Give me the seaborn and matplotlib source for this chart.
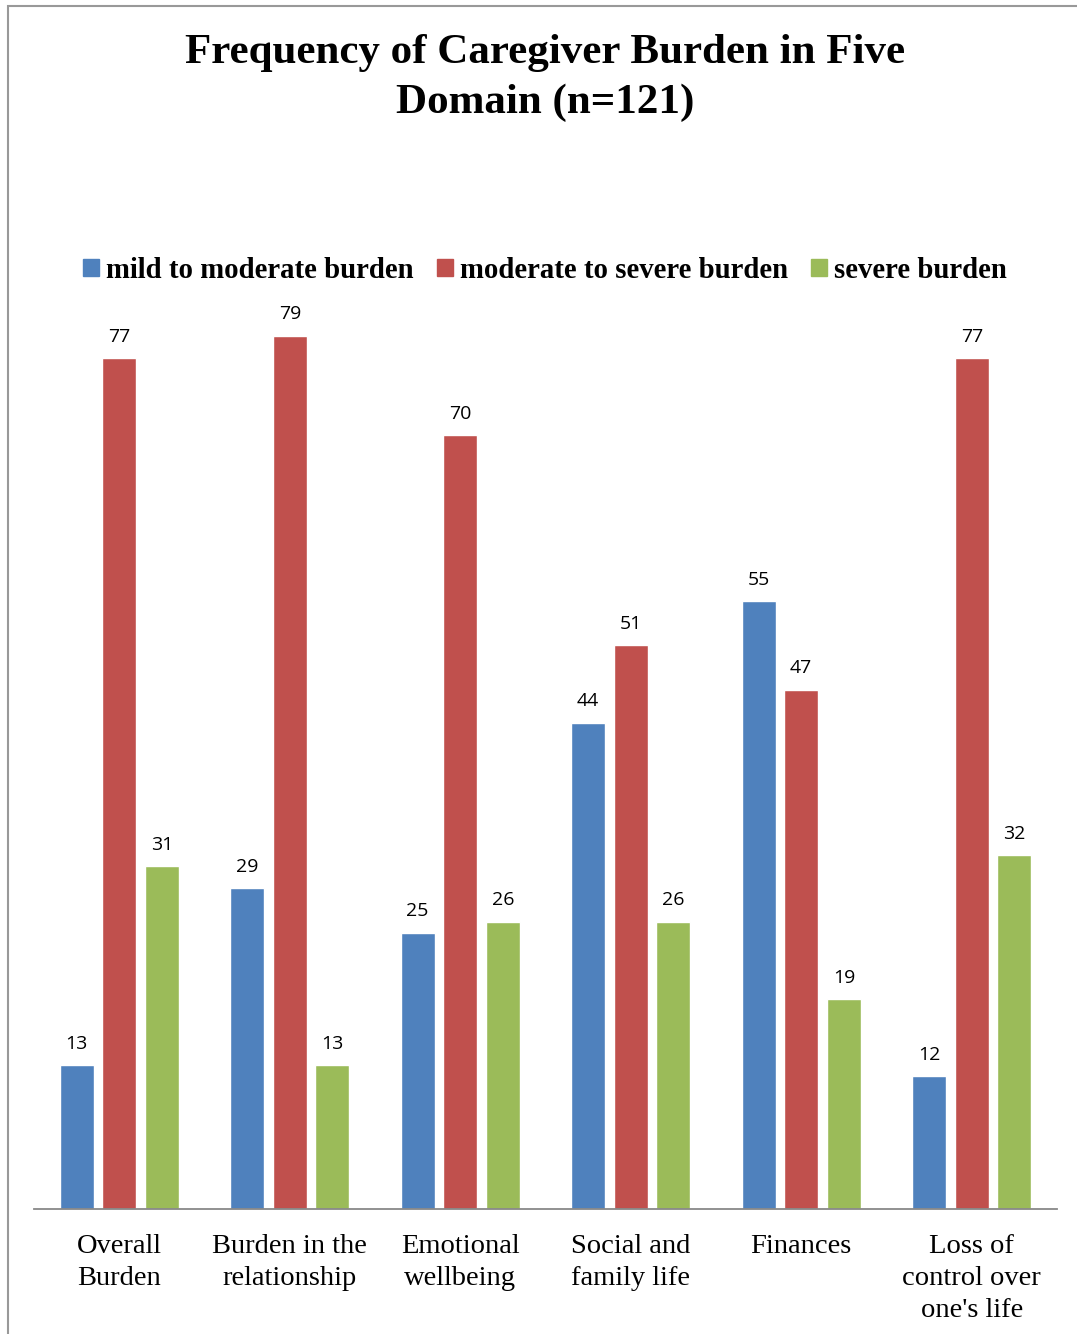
import matplotlib
matplotlib.use("Agg")
import matplotlib.pyplot as plt
import seaborn as sns
import pandas as pd
from matplotlib.patches import Rectangle

categories = ["Overall\nBurden", "Burden in the\nrelationship", "Emotional\nwellbeing",
              "Social and\nfamily life", "Finances", "Loss of\ncontrol over\none's life"]
series_names = ["mild to moderate burden", "moderate to severe burden", "severe burden"]
mild = [13, 29, 25, 44, 55, 12]
moderate_severe = [77, 79, 70, 51, 47, 77]
severe = [31, 13, 26, 26, 19, 32]
colors = ["#4F81BD", "#C0504D", "#9BBB59"]

rows = []
for name, vals in zip(series_names, [mild, moderate_severe, severe]):
    for c, v in zip(categories, vals):
        rows.append({"cat": c, "series": name, "value": v})
df = pd.DataFrame(rows)

sns.set_theme(style="white")
plt.rcParams['font.family'] = ['Liberation Serif', 'DejaVu Serif']
plt.rcParams['text.color'] = 'black'
plt.rcParams['xtick.color'] = 'black'

W, H = 1077, 1334
fig = plt.figure(figsize=(W / 100, H / 100), dpi=100)
ymax = 90
ax_left, ax_right, ax_bottom = 34, 1057, 1209
ppu = (1209 - 358) / 77
ax_top = ax_bottom - ymax * ppu
ax = fig.add_axes([ax_left / W, 1 - ax_bottom / H, (ax_right - ax_left) / W, (ax_bottom - ax_top) / H])

sns.barplot(data=df, x="cat", y="value", hue="series", palette=colors, ax=ax,
            width=0.75, gap=0.2, saturation=1, legend=False)
ax.set_ylim(0, ymax)
ax.set_xlim(-0.5, len(categories) - 0.5)
for cont in ax.containers:
    ax.bar_label(cont, padding=9, fontsize=14, family=['Open Sans', 'DejaVu Sans'], color="#000000")
ax.set_xlabel("")
ax.set_ylabel("")
ax.set_yticks([])
for s in ["top", "left", "right"]:
    ax.spines[s].set_visible(False)
ax.spines["bottom"].set_color("#888888")
ax.spines["bottom"].set_linewidth(1.3)
ax.tick_params(axis="x", length=0, pad=18, colors="black")
for lbl in ax.get_xticklabels():
    lbl.set_fontsize(20.5)
    lbl.set_linespacing(1.38)
    lbl.set_verticalalignment("top")
    lbl.set_color("black")

fig.text(545 / W, 1 - 78 / H, "Frequency of Caregiver Burden in Five\nDomain (n=121)",
         ha="center", va="center", fontsize=31, fontweight="bold", linespacing=1.36, color="black")

# legend
handles = [Rectangle((0, 0), 1, 1, color=c) for c in colors]
leg = fig.legend(handles, series_names, loc="center", bbox_to_anchor=(545 / W, 1 - 270 / H),
                 ncol=3, frameon=False, prop={"size": 20.7, "weight": "bold"},
                 handlelength=0.55, handleheight=0.55, handletextpad=0.25, columnspacing=0.8)
for t in leg.get_texts():
    t.set_color("black")

# outer border
fig.patches.append(Rectangle((8 / W, -0.1), 1.2, 1 - 6 / H + 0.1, transform=fig.transFigure,
                             fill=False, edgecolor="#999999", linewidth=1.5))

fig.savefig("out.png", dpi=100)
